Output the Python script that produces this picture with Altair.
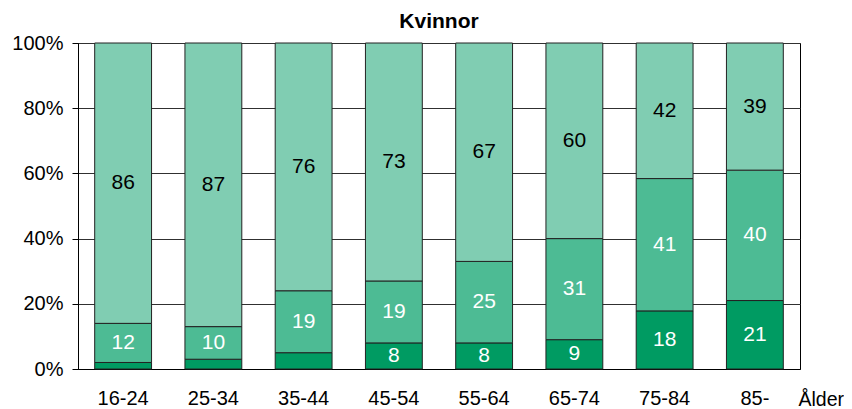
import altair as alt
import pandas as pd

groups = ["16-24", "25-34", "35-44", "45-54", "55-64", "65-74", "75-84", "85-"]
bottom = [2, 3, 5, 8, 8, 9, 18, 21]
middle = [12, 10, 19, 19, 25, 31, 41, 40]
top = [86, 87, 76, 73, 67, 60, 42, 39]

seg_colors = ["#009B62", "#4DBB94", "#80CDB2"]
text_colors = ["white", "white", "black"]

rows = []
for i, g in enumerate(groups):
    for s, vals in enumerate([bottom, middle, top]):
        rows.append({"group": g, "seg": s, "value": vals[i], "tc": text_colors[s]})
df = pd.DataFrame(rows)

FONT = "Liberation Sans"

base = alt.Chart(df).transform_stack(
    stack="value", groupby=["group"], as_=["y0", "y1"], offset="normalize",
    sort=[alt.SortField("seg", order="ascending")]
)

xenc = alt.X(
    "group:N", sort=groups,
    scale=alt.Scale(paddingInner=0.37, paddingOuter=0.185),
    axis=alt.Axis(
        title="Ålder", titleAngle=0, titleAlign="left", titleAnchor="start",
        titleX=720, titleY=36, titleBaseline="alphabetic",
        titleFontWeight="normal", titleFontSize=19.5, titleFont=FONT, titleColor="black",
        labelAngle=0, labelFontSize=20, labelFont=FONT, labelColor="black",
        labelPadding=19, ticks=False, tickSize=0, domainColor="black", grid=False,
    ),
)

bars = base.mark_bar(stroke="#222222", strokeWidth=1).encode(
    x=xenc,
    y=alt.Y(
        "y0:Q", scale=alt.Scale(domain=[0, 1], nice=False),
        axis=alt.Axis(
            title=None, format=".0%", values=[0, 0.2, 0.4, 0.6, 0.8, 1.0],
            labelFontSize=20, labelFont=FONT, labelColor="black", labelPadding=9,
            tickSize=6, tickColor="black", domainColor="black",
            grid=True, gridColor="#303030", gridWidth=1,
        ),
    ),
    y2="y1:Q",
    color=alt.Color("seg:N", scale=alt.Scale(domain=[0, 1, 2], range=seg_colors), legend=None),
)

labels = base.transform_calculate(mid="(datum.y0 + datum.y1) / 2").transform_filter(
    "datum.value >= 6"
).mark_text(fontSize=21, font=FONT, baseline="middle", align="center").encode(
    x=alt.X("group:N", sort=groups),
    y=alt.Y("mid:Q"),
    text=alt.Text("value:Q"),
    color=alt.Color("tc:N", scale=None),
)

chart = alt.layer(bars, labels).properties(
    width=722, height=326,
    title=alt.TitleParams("Kvinnor", fontSize=21, font=FONT, fontWeight="bold",
                          anchor="middle", offset=1, color="black"),
    autosize=alt.AutoSizeParams(type="none"),
    padding={"left": 70, "top": 35, "right": 44, "bottom": 40},
).configure_view(stroke="black", strokeWidth=1)

chart.save("out.html", embed_options={"renderer": "svg", "actions": False})
